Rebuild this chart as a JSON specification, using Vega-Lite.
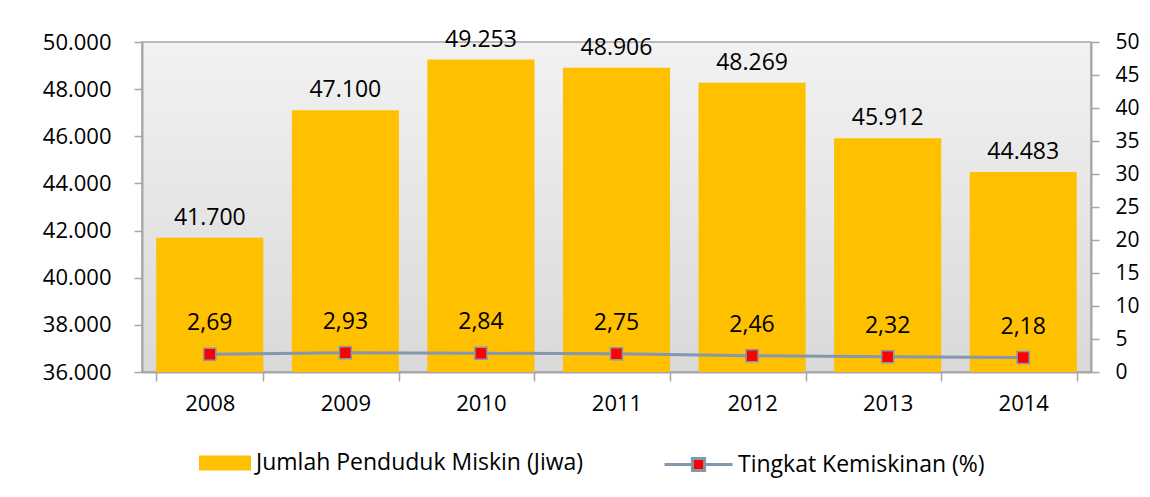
{
  "$schema": "https://vega.github.io/schema/vega-lite/v6.json",
  "width": 949,
  "height": 330,
  "autosize": {"type": "none"},
  "padding": {"left": 142, "top": 42, "right": 59, "bottom": 125},
  "background": "white",
  "data": {
    "values": [
      {"tahun": "2008", "jumlah": 41700, "persen": 2.69},
      {"tahun": "2009", "jumlah": 47100, "persen": 2.93},
      {"tahun": "2010", "jumlah": 49253, "persen": 2.84},
      {"tahun": "2011", "jumlah": 48906, "persen": 2.75},
      {"tahun": "2012", "jumlah": 48269, "persen": 2.46},
      {"tahun": "2013", "jumlah": 45912, "persen": 2.32},
      {"tahun": "2014", "jumlah": 44483, "persen": 2.18}
    ]
  },
  "encoding": {
    "x": {
      "field": "tahun",
      "type": "nominal",
      "scale": {"paddingInner": 0.21, "paddingOuter": 0.105},
      "axis": {
        "title": null,
        "labelAngle": 0,
        "tickBand": "extent",
        "tickSize": 9,
        "labelPadding": 12
      }
    }
  },
  "layer": [
    {
      "encoding": {
        "y": {
          "field": "jumlah",
          "type": "quantitative",
          "scale": {"domain": [36000, 50000], "zero": false, "nice": false},
          "axis": {
            "title": null,
            "orient": "left",
            "values": [36000, 38000, 40000, 42000, 44000, 46000, 48000, 50000],
            "format": ",.0f",
            "labelPadding": 23
          }
        }
      },
      "layer": [
        {
          "mark": {"type": "bar", "clip": true},
          "encoding": {
            "fill": {
              "datum": "Jumlah Penduduk Miskin (Jiwa)",
              "type": "nominal",
              "scale": {"domain": ["Jumlah Penduduk Miskin (Jiwa)"], "range": ["#FFC000"]},
              "legend": {
                "title": null,
                "orient": "none",
                "legendX": 57,
                "legendY": 395,
                "symbolType": "M-1,-0.29H1V0.29H-1Z",
                "symbolSize": 2704,
                "symbolStrokeWidth": 0,
                "symbolOpacity": 1,
                "labelFontSize": 23,
                "labelColor": "#000000",
                "labelFont": "Open Sans",
                "labelLimit": 0,
                "labelOffset": 5
              }
            }
          }
        },
        {
          "mark": {"type": "text", "baseline": "middle", "dy": -20, "fontSize": 23, "color": "#000000"},
          "encoding": {
            "text": {"field": "jumlah", "type": "quantitative", "format": ",.0f"}
          }
        }
      ]
    },
    {
      "encoding": {
        "y": {
          "field": "persen",
          "type": "quantitative",
          "scale": {"domain": [0, 50], "nice": false},
          "axis": {
            "title": null,
            "orient": "right",
            "values": [0, 5, 10, 15, 20, 25, 30, 35, 40, 45, 50],
            "tickCount": 11,
            "labelOverlap": false,
            "labelPadding": 16,
            "labelFontSize": 21
          }
        }
      },
      "layer": [
        {
          "mark": {"type": "line", "strokeWidth": 3},
          "encoding": {
            "stroke": {
              "datum": "Tingkat Kemiskinan (%)",
              "type": "nominal",
              "scale": {"domain": ["Tingkat Kemiskinan (%)"], "range": ["#8497B0"]},
              "legend": {
                "title": null,
                "orient": "none",
                "legendX": 521,
                "legendY": 387,
                "symbolType": "M-1,0H-0.18M0.18,0H1M-0.18,-0.18H0.18V0.18H-0.18Z",
                "symbolSize": 4624,
                "symbolStrokeWidth": 3,
                "symbolFillColor": "#FF0000",
                "symbolOpacity": 1,
                "labelFontSize": 23,
                "labelColor": "#000000",
                "labelFont": "Open Sans",
                "labelLimit": 0,
                "labelOffset": 4
              }
            }
          }
        },
        {
          "mark": {"type": "point", "shape": "square", "filled": true, "size": 144, "fill": "#FF0000", "stroke": "#8497B0", "strokeWidth": 1.5, "opacity": 1},
          "encoding": {}
        },
        {
          "mark": {"type": "text", "baseline": "middle", "dy": -31, "fontSize": 23, "color": "#000000"},
          "encoding": {
            "text": {"field": "persen", "type": "quantitative", "format": ".2f"}
          }
        }
      ]
    }
  ],
  "resolve": {"scale": {"y": "independent"}},
  "config": {
    "locale": {"number": {"decimal": ",", "thousands": ".", "grouping": [3], "currency": ["", ""]}},
    "font": "Open Sans",
    "view": {
      "stroke": "#A6A6A6",
      "strokeWidth": 1.5,
      "fill": {"gradient": "linear", "x1": 0, "y1": 0, "x2": 0, "y2": 1, "stops": [{"offset": 0, "color": "#F2F2F2"}, {"offset": 1, "color": "#D9D9D9"}]}
    },
    "axis": {
      "grid": false,
      "labelOverlap": false,
      "labelFont": "Open Sans",
      "labelFontSize": 22,
      "labelColor": "#000000",
      "domainColor": "#A6A6A6",
      "domainWidth": 2,
      "tickColor": "#A6A6A6",
      "tickWidth": 1.5,
      "tickSize": 8
    },
    "axisQuantitative": {"labelOverlap": false}
  }
}
